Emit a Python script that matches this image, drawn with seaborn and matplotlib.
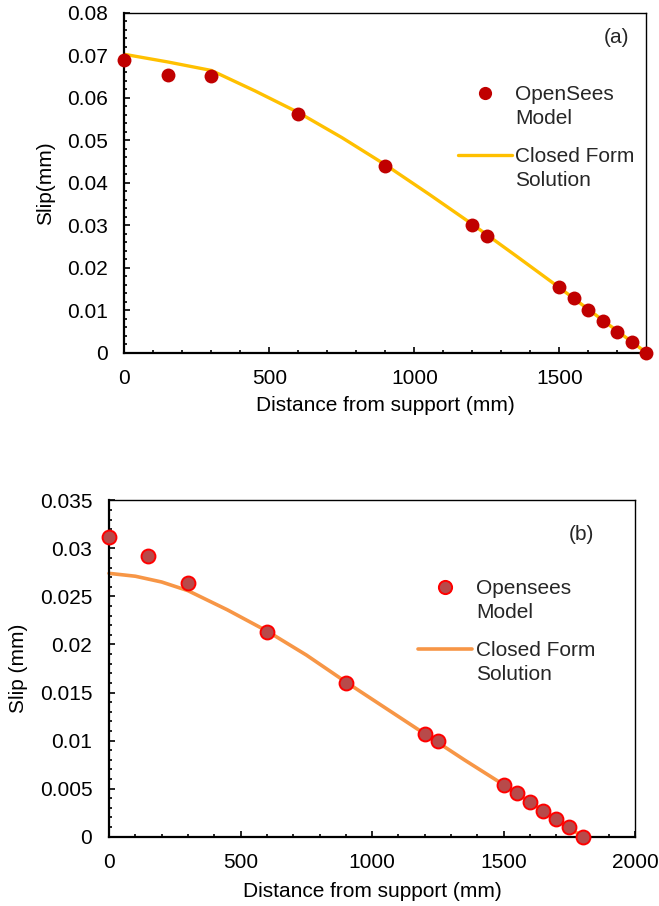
import numpy as np
import pandas as pd
import matplotlib
matplotlib.use("Agg")
import matplotlib.pyplot as plt
import seaborn as sns
from matplotlib.lines import Line2D
from matplotlib.legend_handler import HandlerLine2D
from matplotlib.ticker import MultipleLocator, FuncFormatter

# ---- data ----
distance = [0, 150, 300, 600, 900, 1200, 1250, 1500, 1550, 1600, 1650, 1700, 1750, 1800]
slip_opensees_a = [0.0688, 0.0654, 0.0652, 0.0561, 0.0440, 0.0300, 0.0275,
                   0.0154, 0.0129, 0.0100, 0.0075, 0.0049, 0.0025, 0.0]
slip_opensees_b = [0.0312, 0.0292, 0.0264, 0.0213, 0.0160, 0.0107, 0.0100,
                   0.0054, 0.0045, 0.0036, 0.0027, 0.0018, 0.0010, 0.0]

closed_x_a = [0, 150, 300, 450, 600, 750, 900, 1050, 1200, 1350, 1500, 1650, 1800]
closed_a = [0.0702, 0.0684, 0.0664, 0.0616, 0.0565, 0.0506, 0.0442, 0.0373,
            0.0302, 0.0228, 0.0153, 0.0076, 0.0]
closed_x_b = [0, 100, 200, 300, 450, 600, 750, 900, 1050, 1200, 1350, 1500, 1650, 1800]
closed_b = [0.0274, 0.0271, 0.0265, 0.0256, 0.0236, 0.0214, 0.0189, 0.0161,
            0.0134, 0.0107, 0.0080, 0.0054, 0.0027, 0.0]

sns.set_theme(style="white")
plt.rcParams["font.family"] = ["Liberation Sans", "DejaVu Sans"]
FS = 15
LEG_LINESPACING = 1.35
plt.rcParams["font.size"] = FS


class RaisedHandler(HandlerLine2D):
    """Legend handle aligned with the first line of a two-line label."""
    def create_artists(self, legend, orig_handle, xdescent, ydescent,
                       width, height, fontsize, trans):
        arts = super().create_artists(legend, orig_handle, xdescent, ydescent,
                                      width, height, fontsize, trans)
        for a in arts:
            a.set_ydata(np.asarray(a.get_ydata(), dtype=float)
                        + 0.5 * LEG_LINESPACING * fontsize)
        return arts


def style_axes(ax, xmax, ymax, ymajor, yminor):
    ax.set_xlim(0, xmax)
    ax.set_ylim(0, ymax)
    ax.xaxis.set_major_locator(MultipleLocator(500))
    ax.xaxis.set_minor_locator(MultipleLocator(100))
    ax.yaxis.set_major_locator(MultipleLocator(ymajor))
    ax.yaxis.set_minor_locator(MultipleLocator(yminor))
    ax.tick_params(axis="both", which="both", direction="in", colors="black",
                   labelsize=FS, width=1.2, bottom=True, left=True,
                   top=False, right=False)
    ax.tick_params(axis="both", which="major", length=4, pad=12)
    ax.tick_params(axis="both", which="minor", length=2.5)
    for side in ["left", "bottom"]:
        ax.spines[side].set_linewidth(1.6)
        ax.spines[side].set_color("black")
    for side in ["top", "right"]:
        ax.spines[side].set_linewidth(1.0)
        ax.spines[side].set_color("black")
    ax.grid(False)


def add_legend(ax, handles, labels, anchor, textpad):
    leg = ax.legend(handles, labels, loc="upper left", bbox_to_anchor=anchor,
                    frameon=False, borderpad=0, borderaxespad=0,
                    handlelength=2.6, handletextpad=textpad,
                    labelspacing=0.9, fontsize=FS,
                    handler_map={Line2D: RaisedHandler(numpoints=1)})
    for t in leg.get_texts():
        t.set_linespacing(LEG_LINESPACING)
    return leg


fig = plt.figure(figsize=(6.59, 9.06), dpi=100)

# ---- panel (a) ----
ax1 = fig.add_axes([0.1889, 0.6107, 0.7921, 0.3753])
df_a = pd.DataFrame({"x": distance, "y": slip_opensees_a})
cf_a = pd.DataFrame({"x": closed_x_a, "y": closed_a})
sns.lineplot(data=cf_a, x="x", y="y", ax=ax1, color="#FFC000", lw=2.4,
             zorder=2, clip_on=False)
sns.scatterplot(data=df_a, x="x", y="y", ax=ax1, color="#C00000", s=100,
                linewidth=0, zorder=3, clip_on=False)
style_axes(ax1, 1800, 0.08, 0.01, 0.002)
ax1.set_xticks([0, 500, 1000, 1500])
ax1.yaxis.set_major_formatter(FuncFormatter(
    lambda v, p: "0" if abs(v) < 1e-12 else f"{v:.2f}"))
ax1.set_xlabel("Distance from support (mm)", fontsize=FS, color="black")
ax1.set_ylabel("Slip(mm)", fontsize=FS, color="black")
ax1.xaxis.set_label_coords(0.5, -0.154)
ax1.xaxis.label.set_va("center")
ax1.yaxis.set_label_coords(-0.152, 0.5)
ax1.yaxis.label.set_va("center")
ax1.text(0.943, 0.926, "(a)", transform=ax1.transAxes, fontsize=FS,
         ha="center", va="center")
h_pts_a = Line2D([], [], ls="none", marker="o", markersize=9.5,
                 markerfacecolor="#C00000", markeredgewidth=0)
h_line_a = Line2D([], [], color="#FFC000", lw=2.4)
add_legend(ax1, [h_pts_a, h_line_a], ["OpenSees\nModel", "Closed Form\nSolution"],
           (0.639, 0.788), 0.15)

# ---- panel (b) ----
ax2 = fig.add_axes([0.1654, 0.0765, 0.7986, 0.3713])
df_b = pd.DataFrame({"x": distance, "y": slip_opensees_b})
cf_b = pd.DataFrame({"x": closed_x_b, "y": closed_b})
sns.lineplot(data=cf_b, x="x", y="y", ax=ax2, color="#F79646", lw=2.6,
             zorder=2, clip_on=False)
sns.scatterplot(data=df_b, x="x", y="y", ax=ax2, color="#B84A4A", s=100,
                edgecolor="#FF0000", linewidth=1.4, zorder=3, clip_on=False)
style_axes(ax2, 2000, 0.035, 0.005, 0.001)
ax2.yaxis.set_major_formatter(FuncFormatter(
    lambda v, p: "0" if abs(v) < 1e-12 else f"{v:.3f}".rstrip("0")))
ax2.set_xlabel("Distance from support (mm)", fontsize=FS, color="black")
ax2.set_ylabel("Slip (mm)", fontsize=FS, color="black")
ax2.xaxis.set_label_coords(0.5, -0.163)
ax2.xaxis.label.set_va("center")
ax2.yaxis.set_label_coords(-0.172, 0.5)
ax2.yaxis.label.set_va("center")
ax2.text(0.897, 0.897, "(b)", transform=ax2.transAxes, fontsize=FS,
         ha="center", va="center")
h_pts_b = Line2D([], [], ls="none", marker="o", markersize=9.5,
                 markerfacecolor="#B84A4A", markeredgecolor="#FF0000",
                 markeredgewidth=1.4)
h_line_b = Line2D([], [], color="#F79646", lw=2.6)
add_legend(ax2, [h_pts_b, h_line_b], ["Opensees\nModel", "Closed Form\nSolution"],
           (0.587, 0.766), 0.2)

fig.savefig("out.png", dpi=100, facecolor="white")
